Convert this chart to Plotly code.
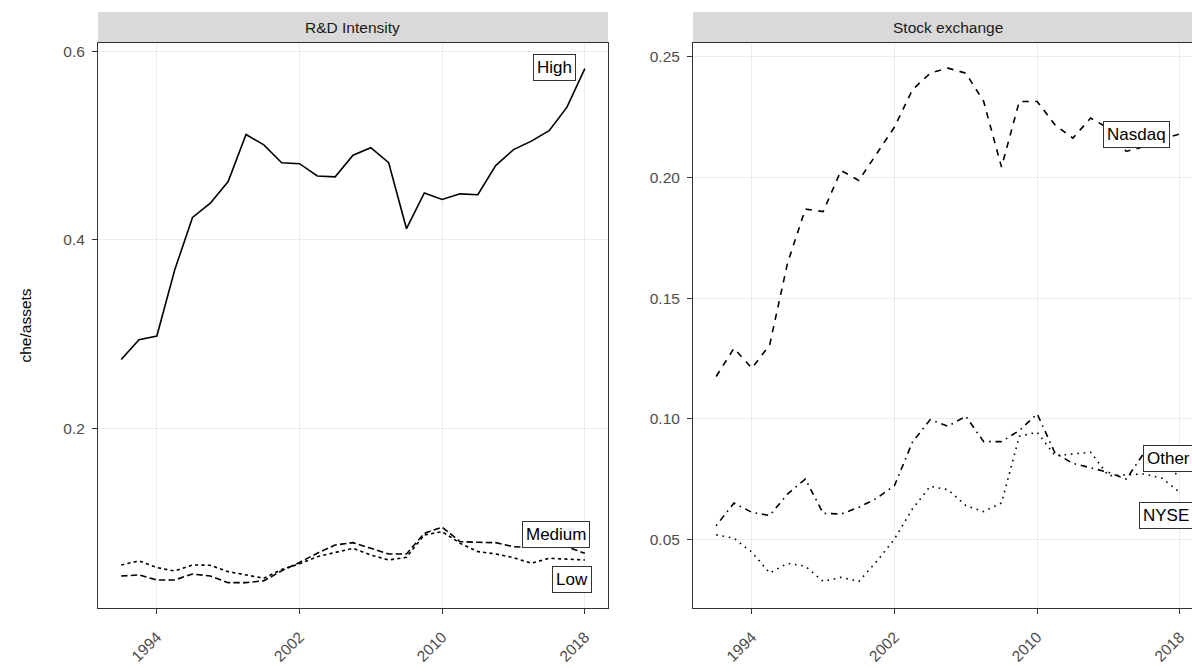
import plotly.graph_objects as go

# ---------------- data ----------------
years = list(range(1992, 2019))

rd_high = [0.273, 0.294, 0.298, 0.368, 0.424, 0.439, 0.462, 0.512, 0.501, 0.482,
           0.481, 0.468, 0.467, 0.490, 0.498, 0.482, 0.412, 0.450, 0.443, 0.449,
           0.448, 0.479, 0.496, 0.505, 0.516, 0.541, 0.582]
rd_medium = [0.0431, 0.0442, 0.0389, 0.0389, 0.0452, 0.0431, 0.0360, 0.0360, 0.0381, 0.0485,
             0.0575, 0.0673, 0.0760, 0.0785, 0.0725, 0.0665, 0.0665, 0.0885, 0.0949, 0.0796,
             0.0789, 0.0785, 0.0742, 0.0735, 0.0745, 0.0740, 0.0673]
rd_low = [0.0548, 0.0591, 0.0520, 0.0484, 0.0548, 0.0545, 0.0477, 0.0442, 0.0407, 0.0500,
          0.0560, 0.0636, 0.0679, 0.0725, 0.0654, 0.0601, 0.0630, 0.0867, 0.0902, 0.0779,
          0.0690, 0.0665, 0.0626, 0.0566, 0.0619, 0.0609, 0.0601]

ex_nasdaq = [0.1176, 0.1293, 0.1210, 0.1307, 0.1645, 0.1869, 0.1859, 0.2029, 0.1988, 0.2101,
             0.2209, 0.2363, 0.2432, 0.2453, 0.2432, 0.2315, 0.2043, 0.2315, 0.2315, 0.2218,
             0.2163, 0.2246, 0.2204, 0.2108, 0.2128, 0.2160, 0.2180]
ex_nyse = [0.0520, 0.0506, 0.0448, 0.0362, 0.0402, 0.0390, 0.0327, 0.0344, 0.0327, 0.0410,
           0.0503, 0.0627, 0.0721, 0.0707, 0.0641, 0.0616, 0.0652, 0.0928, 0.0945, 0.0848,
           0.0855, 0.0862, 0.0765, 0.0768, 0.0772, 0.0754, 0.0696]
ex_other = [0.0558, 0.0652, 0.0613, 0.0600, 0.0689, 0.0751, 0.0609, 0.0606, 0.0634, 0.0671,
            0.0724, 0.0903, 0.0997, 0.0970, 0.1011, 0.0906, 0.0906, 0.0952, 0.1021, 0.0859,
            0.0816, 0.0796, 0.0779, 0.0751, 0.0860, 0.0820, 0.0760]

panel_titles = ["R&D Intensity", "Stock exchange"]
x_ticks = [1994, 2002, 2010, 2018]
left_y_ticks = [0.2, 0.4, 0.6]
right_y_ticks = [0.05, 0.10, 0.15, 0.20, 0.25]
y_title = "che/assets"

# ---------------- styling ----------------
W, H = 1192, 668
FONT = "Arial, 'Liberation Sans', Helvetica, sans-serif"
LW = 1.6
dashes = {
    "High": "solid",
    "Low": "3.2px,3.2px",
    "Medium": "6.4px,3.2px",
    "Nasdaq": "6.4px,6.4px",
    "NYSE": "1.6px,4.8px",
    "Other": "1.6px,4.8px,6.4px,4.8px",
}
# label placement: (x offset in years from last point, y nudge from last value)
label_pos = {
    "High": (-1.7, 0.001),
    "Medium": (-1.6, 0.0201),
    "Low": (-0.7, -0.0204),
    "Nasdaq": (-2.45, 0.0),
    "Other": (-0.65, 0.0076),
    "NYSE": (-0.75, -0.0095),
}

# geometry in screen pixels
L_X0, L_X1 = 98, 608
R_X0, R_X1 = 693, 1203
P_TOP, P_BOT = 43, 608
STRIP_TOP = 12

def px(x):
    return x / W

def py(y):
    return (H - y) / H

xrange_left = [1990.7, 2019.3]
px_per_year = (L_X1 - L_X0) / (xrange_left[1] - xrange_left[0])
xrange_right = [1990.7, 1990.7 + (W - R_X0) / px_per_year]

fig = go.Figure()

left_series = [("High", rd_high), ("Medium", rd_medium), ("Low", rd_low)]
right_series = [("Nasdaq", ex_nasdaq), ("NYSE", ex_nyse), ("Other", ex_other)]

for name, vals in left_series:
    fig.add_trace(go.Scatter(x=years, y=vals, mode="lines", name=name,
                             line=dict(color="black", width=LW, dash=dashes[name]),
                             xaxis="x", yaxis="y", showlegend=False))
for name, vals in right_series:
    fig.add_trace(go.Scatter(x=years, y=vals, mode="lines", name=name,
                             line=dict(color="black", width=LW, dash=dashes[name]),
                             xaxis="x2", yaxis="y2", showlegend=False))

annotations = []
for (name, vals), axes in [(s, ("x", "y")) for s in left_series] + [(s, ("x2", "y2")) for s in right_series]:
    dx, dy = label_pos[name]
    annotations.append(dict(
        x=years[-1] + dx, y=vals[-1] + dy, xref=axes[0], yref=axes[1],
        text=name, showarrow=False, xanchor="center", yanchor="middle",
        font=dict(family=FONT, size=17, color="black"),
        bgcolor="white", bordercolor="#333333", borderwidth=1, borderpad=3,
    ))

# strip texts
annotations.append(dict(x=px((L_X0 + L_X1) / 2), y=py((STRIP_TOP + P_TOP) / 2),
                        xref="paper", yref="paper", text=panel_titles[0], showarrow=False,
                        font=dict(family=FONT, size=15.5, color="#1A1A1A"),
                        xanchor="center", yanchor="middle"))
annotations.append(dict(x=px((R_X0 + R_X1) / 2), y=py((STRIP_TOP + P_TOP) / 2),
                        xref="paper", yref="paper", text=panel_titles[1], showarrow=False,
                        font=dict(family=FONT, size=15.5, color="#1A1A1A"),
                        xanchor="center", yanchor="middle"))
# y axis title
annotations.append(dict(x=px(25), y=py((P_TOP + P_BOT) / 2), xref="paper", yref="paper",
                        text=y_title, showarrow=False, textangle=-90,
                        font=dict(family=FONT, size=15.5, color="black"),
                        xanchor="center", yanchor="middle"))

shapes = [
    dict(type="rect", xref="paper", yref="paper", x0=px(L_X0), x1=px(L_X1),
         y0=py(P_TOP), y1=py(STRIP_TOP), fillcolor="#D9D9D9", line=dict(width=0), layer="below"),
    dict(type="rect", xref="paper", yref="paper", x0=px(R_X0), x1=1.0,
         y0=py(P_TOP), y1=py(STRIP_TOP), fillcolor="#D9D9D9", line=dict(width=0), layer="below"),
]

axis_common = dict(
    showgrid=True, gridcolor="#EBEBEB", gridwidth=1, zeroline=False,
    showline=True, linecolor="#333333", linewidth=1,
    ticks="outside", ticklen=5, tickwidth=1, tickcolor="#333333",
    tickfont=dict(family=FONT, size=15.5, color="#4D4D4D"),
)

fig.update_layout(
    width=W, height=H,
    margin=dict(l=0, r=0, t=0, b=0),
    paper_bgcolor="white", plot_bgcolor="white",
    showlegend=False,
    xaxis=dict(domain=[px(L_X0), px(L_X1)], range=xrange_left, tickvals=x_ticks,
               ticktext=[str(t) for t in x_ticks], tickangle=-45, mirror=True,
               anchor="y", automargin=False, ticklabelstandoff=8, **axis_common),
    yaxis=dict(domain=[py(P_BOT), py(P_TOP)], range=[0.0091, 0.6092], tickvals=left_y_ticks,
               ticktext=[f"{t:.1f}" for t in left_y_ticks], mirror=True, anchor="x",
               automargin=False, ticklabelstandoff=4, **axis_common),
    xaxis2=dict(domain=[px(R_X0), 1.0], range=xrange_right, tickvals=x_ticks,
                ticktext=[str(t) for t in x_ticks], tickangle=-45, mirror=True,
                anchor="y2", automargin=False, ticklabelstandoff=8, **axis_common),
    yaxis2=dict(domain=[py(P_BOT), py(P_TOP)], range=[0.0217, 0.2557], tickvals=right_y_ticks,
                ticktext=[f"{t:.2f}" for t in right_y_ticks], mirror=False, anchor="x2",
                automargin=False, ticklabelstandoff=4, **axis_common),
    annotations=annotations,
    shapes=shapes,
)

fig.write_html(
    "out.html",
    config={"displayModeBar": False},
    post_script="document.body.style.margin='0';document.body.style.overflow='hidden';",
)
